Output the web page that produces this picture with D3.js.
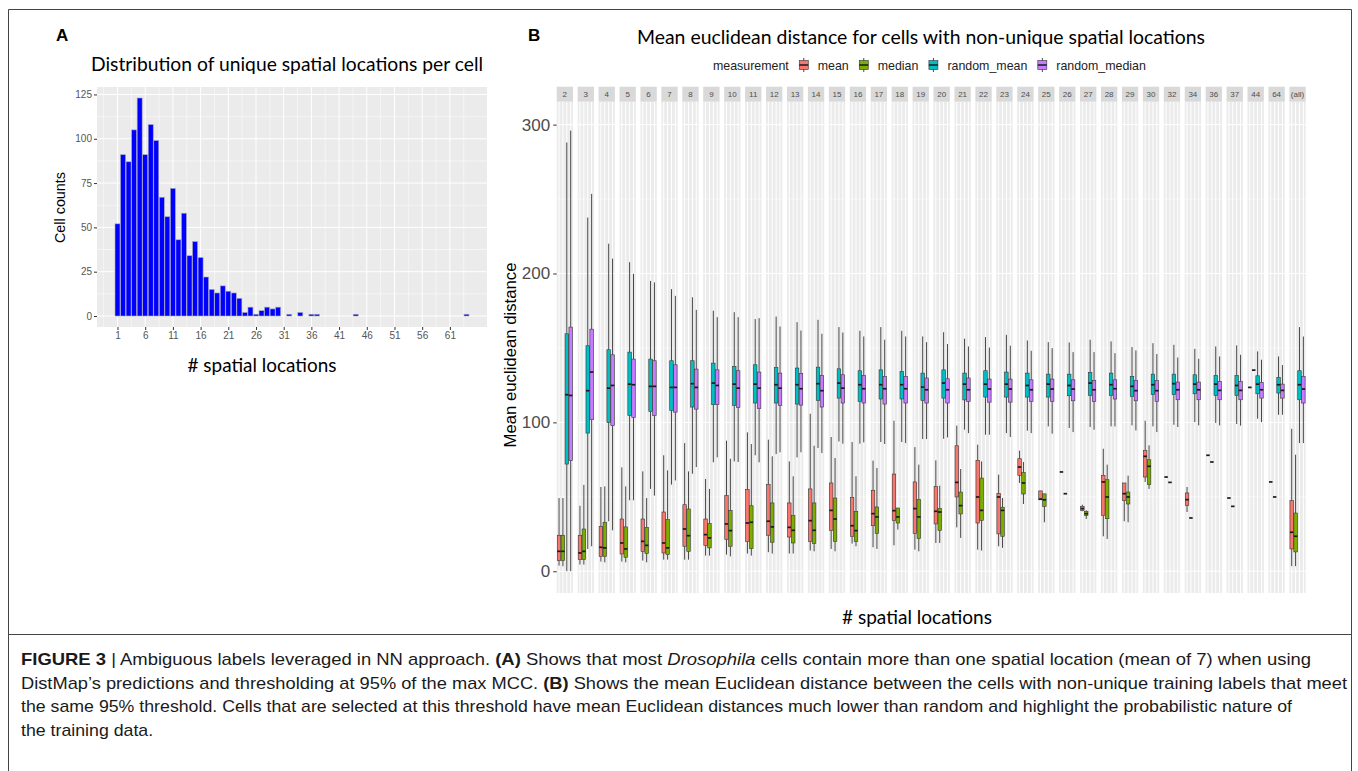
<!DOCTYPE html>
<html><head><meta charset="utf-8">
<script src="https://cdn.jsdelivr.net/npm/d3@7"></script>
<style>body{margin:0;background:#fff;} svg{display:block;}</style>
</head><body>
<svg id="fig" width="1358" height="771"></svg>
<script>
// ---------- Panel A data ----------
const locations = [1,2,3,4,5,6,7,8,9,10,11,12,13,14,15,16,17,18,19,20,21,22,23,24,25,26,27,28,29,30,31,32,33,34,35,36,37,38,39,40,41,42,43,44,45,46,47,48,49,50,51,52,53,54,55,56,57,58,59,60,61,62,63,64];
const cellCounts = [52,91,87,105,123,91,108,99,67,56,72,43,58,34,42,33,22,15,13,17,14,13,10,2,5,1,3,5,4,5,0,1,0,2,0,1,1,0,0,0,0,0,0,1,0,0,0,0,0,0,0,0,0,0,0,0,0,0,0,0,0,0,0,1];
const xTicksA = [1,6,11,16,21,26,31,36,41,46,51,56,61];
const yTicksA = [0,25,50,75,100,125];

// ---------- Panel B data ----------
const facets = ["2","3","4","5","6","7","8","9","10","11","12","13","14","15","16","17","18","19","20","21","22","23","24","25","26","27","28","29","30","32","34","36","37","44","64","(all)"];
const measurements = ["mean","median","random_mean","random_median"];
// [lower whisker, Q1, median, Q3, upper whisker]
const meanStats = [
 [3.8,7.2,13.4,24.2,49.2],[4.5,7.8,12.3,24.2,44],[6.5,10,16.1,30.2,56.6],[6.5,11.6,19,35.1,69.8],
 [7.2,13.4,20.1,35.1,67.1],[7.8,12.3,19,39.8,77.9],[7.8,16.8,28.4,44.7,86.1],[10.5,17.4,24.6,35.1,62],
 [11.2,21.3,31.8,50.8,87.7],[11.9,20.1,32.4,54.8,93.3],[12.8,24.2,33.6,58.2,88.4],[11.9,23,29.5,45.9,73.8],
 [13.9,20.1,34,55.3,105.8],[15,27.5,40.9,59.3,90.2],[18.6,23.5,30.6,49.7,86.8],[16.1,30.6,38.7,54.4,74.3],
 [17.4,34.2,40.7,65.3,101.1],[14.5,25.3,42.1,60,83.4],[19,31.8,40.3,57,74.5],[29.5,49.9,59.7,84.3,97.8],
 [14.5,32.4,49.9,74.5,85],[16.8,25.1,49.9,52.1,64.9],[59.3,64.4,70,75.6,81],[48,48,48.5,54,54],
 [66.7,66.7,66.7,66.7,66.7],[40.3,40.9,42.1,43.6,44.7],[23.5,37.6,60,64.4,82.3],[33.6,47.4,52.1,59.3,59.3],
 [60,63.3,77.2,81,101.1],[63.3,63.3,63.3,63.3,63.3],[39.8,44.1,48.1,52.6,56.6],[77.9,77.9,77.9,77.9,77.9],
 [49.2,49.2,49.2,49.2,49.2],[123.5,123.5,123.5,123.5,123.5],[60,60,60,60,60],[3.4,15,26.2,47.4,95.7]
];
const medianStats = [
 [3.4,7.2,13.4,24.2,49.2],[4.5,7.8,13.4,28.4,58],[6,10,15.7,32.9,57],[6,9.4,15,29.8,57],
 [6,11.9,17.4,29.5,49.2],[7.8,11.2,15.7,34.7,67.8],[7.8,13.4,23.9,41.8,67.1],[10.5,15.7,22.4,32,55.3],
 [10,16.8,27.3,40.9,75.6],[10.5,15.2,32.9,44,85.5],[11.9,19.5,29.8,45.9,77.2],[11.9,19,27.5,37.4,63.8],
 [13.4,18.6,27.5,45.9,84.3],[13.4,20.1,35.1,49.2,76.1],[16.8,20.1,27.3,40.3,63.8],[15,25.3,36.5,43.2,69.4],
 [28,32.4,36.5,42.5,42.5],[13.4,21.9,36.5,48.1,71.6],[19,27.5,39.8,42.1,57.5],[22.4,38.5,44.1,53.2,68.7],
 [13.9,34.2,40.9,62.6,73.8],[15.7,23.5,40.9,43,49.2],[45.2,51.9,59.3,66.4,73.4],[32.9,43.6,48,52,52],
 [52.1,52.1,52.1,52.1,52.1],[35.1,37.4,38.7,40.3,40.9],[21.7,35.3,49.9,61.5,71.6],[32.9,45.2,49.9,53.2,64.2],
 [55.3,58.2,70.5,74.9,84.6],[59.7,59.7,59.7,59.7,59.7],[35.8,35.8,35.8,35.8,35.8],[73.4,73.4,73.4,73.4,73.4],
 [43.6,43.6,43.6,43.6,43.6],[135.1,135.1,135.1,135.1,135.1],[49.9,49.9,49.9,49.9,49.9],[3.4,13,23.5,39.1,78.3]
];
const randomMeanStats = [
 [0,72,118.6,159.5,288],[15,92.8,121.3,151.5,237.6],[33.6,100,123,148.8,220],[47.7,104.7,125.7,147.2,207.6],
 [55.3,107.4,124.2,142.5,195],[58.2,108,123.5,141.4,189.5],[65.5,110.3,126,141.4,184],[73.2,111.9,126.4,139.8,175],
 [73.8,111.4,125.7,137.6,174],[77.9,113,125.7,138.7,169.4],[78.7,113,125.3,136.9,171.1],[76.5,112.3,125.3,136.5,167.3],
 [82.8,114.8,126,137.1,168.9],[87.2,116.3,126.4,136,164],[85.7,114.1,125.3,134.7,161.5],[86.8,115.7,125.3,135.3,164],
 [86.8,115.7,125.3,134.2,161.5],[88.8,114.8,123.7,133.1,157.7],[89,116.3,126.4,135.3,160.6],[95.1,115.1,125.7,133.1,156.2],
 [91.7,117,125.7,134.7,157.3],[92.8,117,125.7,133.8,158.8],[94.4,117,124.8,133.1,155],[97.3,117,125.7,132.4,153.9],
 [96.2,117.9,124.8,132.4,153.7],[96.9,118.1,126.4,133.6,155.5],[97.3,118.1,125.3,133.1,154.4],[98,117.4,124.2,130.9,150.6],
 [97.3,118.6,125.3,132.4,153.2],[98.4,118.6,126,132.4,152.1],[100.2,119.2,125.7,132,149.4],[99.6,118.1,125.7,131.5,151],
 [98.9,118.1,124.8,131.5,151.7],[102.5,119.2,125.7,131.3,147.7],[105.1,119.7,125.3,130.2,144.3],[86.1,115.2,125.3,134.7,164]
];
const randomMedianStats = [
 [0,74.3,118.1,164,296],[16.8,101.8,133.8,162.6,253.5],[27.5,97.8,124.8,145.4,210],[47.7,103.4,125.3,142.5,199.8],
 [50.8,104.7,124.2,141.4,194],[61,106.9,123.5,138.7,185],[70,108.9,123.5,135.8,175.6],[76.5,111.9,124.8,135.3,170.7],
 [73.4,110,123,134.7,170.7],[73.2,109.2,123,133.8,170],[79.9,111.4,123,133.1,164.4],[79.9,111.6,122.6,132.9,161.7],
 [79.4,110.3,121.3,131.5,159.5],[85.7,113,123,132,160.4],[86.6,113,122.6,131.5,157.7],[85.5,112.3,122.6,130.9,155.5],
 [86.1,113,122.6,130.9,157.7],[88.8,113,121.9,129.8,153.9],[89.9,113,121.9,129.3,152.6],[92.8,114.1,121.9,129.8,151],
 [91.7,113.6,122.4,129.1,150.3],[90.2,113.6,122.4,129.1,151.5],[92.8,114.1,121.9,128.6,148.1],[92.4,114.1,122.4,129.1,149.9],
 [93.5,114.5,122.4,128.6,147.2],[95.1,114.1,121.9,128,147.2],[97.3,115.7,122.6,128.6,146.5],[94.6,114.5,121.3,128.2,148.3],
 [93.5,114.1,121.3,128,145.9],[96.9,115.2,121.9,127.1,143.6],[98,115.2,121.9,127.1,142.7],[98,115.2,121.5,127.5,144.3],
 [97.8,115.2,121.5,127.5,145.4],[100.2,116.3,121.9,126.8,142.1],[105.1,116.3,121.5,125.7,138.5],[86.1,113,122.4,130.9,157.7]
];
const yTicksB = [0,100,200,300];
const yMinorB = [50,150,250];
const measurementColors = ["#F8766D","#7CAE00","#00BFC4","#C77CFF"];

// ---------- drawing ----------
const svg = d3.select("#fig");
svg.append("rect").attr("width",1358).attr("height",771).attr("fill","#fff");
const SANS = "'Liberation Sans', Arial, sans-serif";
const TITLEF = "Lato, 'Open Sans', sans-serif";

// frame
svg.append("path").attr("d","M8.5,790V9.5H1351.5V790").attr("fill","none").attr("stroke","#444").attr("stroke-width",1);
svg.append("line").attr("x1",8.5).attr("x2",1351.5).attr("y1",634.5).attr("y2",634.5).attr("stroke","#444").attr("stroke-width",1);

// panel letters
svg.append("text").attr("x",56).attr("y",41).text("A").attr("font-family",SANS).attr("font-weight","bold").attr("font-size",17);
svg.append("text").attr("x",528).attr("y",41).text("B").attr("font-family",SANS).attr("font-weight","bold").attr("font-size",17);

function fitText(t, w){ t.attr("textLength", w).attr("lengthAdjust","spacingAndGlyphs"); return t; }

// ===== Panel A =====
const xA = d3.scaleLinear().domain([-2.7, 67.7]).range([97, 487]);
const yA = d3.scaleLinear().domain([-6.2, 129.2]).range([327, 87]);
const gA = svg.append("g");
gA.append("rect").attr("x",97).attr("y",87).attr("width",390).attr("height",240).attr("fill","#EBEBEB");
const xMinorA = xTicksA.map(v=>v-2.5).concat([xTicksA[xTicksA.length-1]+2.5]);
const yMinorA = yTicksA.map(v=>v+12.5).filter(v=>v<129);
gA.selectAll("line.xmin").data(xMinorA).join("line").attr("x1",d=>xA(d)).attr("x2",d=>xA(d)).attr("y1",87).attr("y2",327).attr("stroke","#fff").attr("stroke-width",0.5);
gA.selectAll("line.ymin").data(yMinorA).join("line").attr("y1",d=>yA(d)).attr("y2",d=>yA(d)).attr("x1",97).attr("x2",487).attr("stroke","#fff").attr("stroke-width",0.5);
gA.selectAll("line.xmaj").data(xTicksA).join("line").attr("x1",d=>xA(d)).attr("x2",d=>xA(d)).attr("y1",87).attr("y2",327).attr("stroke","#fff").attr("stroke-width",1);
gA.selectAll("line.ymaj").data(yTicksA).join("line").attr("y1",d=>yA(d)).attr("y2",d=>yA(d)).attr("x1",97).attr("x2",487).attr("stroke","#fff").attr("stroke-width",1);
gA.selectAll("rect.bar").data(locations).join("rect")
  .attr("x",d=>xA(d-0.45)).attr("width",xA(0.9)-xA(0))
  .attr("y",(d,i)=>yA(cellCounts[i])).attr("height",(d,i)=>yA(0)-yA(cellCounts[i]))
  .attr("fill","#0000FF").attr("stroke","#A9A9B8").attr("stroke-width",0.6);
// axes A
const axA = gA.append("g").attr("transform","translate(0,327)").call(d3.axisBottom(xA).tickValues(xTicksA).tickSize(3).tickPadding(2));
const ayA = gA.append("g").attr("transform","translate(97,0)").call(d3.axisLeft(yA).tickValues(yTicksA).tickSize(3).tickPadding(2));
[axA, ayA].forEach(a=>{ a.select(".domain").remove(); a.selectAll(".tick line").attr("stroke","#333");
  a.selectAll("text").attr("font-family",SANS).attr("font-size",10).attr("fill","#555"); });
fitText(svg.append("text").attr("x",287).attr("y",71).attr("text-anchor","middle").attr("font-family",TITLEF).attr("font-size",19).text("Distribution of unique spatial locations per cell"),392);
fitText(svg.append("text").attr("x",262).attr("y",372).attr("text-anchor","middle").attr("font-family",TITLEF).attr("font-size",19).text("# spatial locations"),149);
fitText(svg.append("text").attr("transform","translate(64.5,207.5) rotate(-90)").attr("text-anchor","middle").attr("font-family",SANS).attr("font-size",14).text("Cell counts"),71);

// ===== Panel B =====
const fx = d3.scaleBand().domain(facets).range([556.7, 1305.7]).paddingInner(0.22).paddingOuter(0);
const xin = d3.scalePoint().domain(measurements).range([0, fx.bandwidth()]).padding(0.6);
const yB = d3.scaleLinear().domain([-14.6, 315.2]).range([593, 102]);
const colorB = d3.scaleOrdinal().domain(measurements).range(measurementColors);
const statsB = [meanStats, medianStats, randomMeanStats, randomMedianStats];
const gB = svg.append("g");
const bw = xin.step()*0.9;
facets.forEach((f,i)=>{
  const x0 = fx(f);
  const g = gB.append("g").attr("transform",`translate(${x0},0)`);
  g.append("rect").attr("x",0).attr("y",102).attr("width",fx.bandwidth()).attr("height",491).attr("fill","#EBEBEB");
  g.selectAll("line.ym").data(yMinorB).join("line").attr("x1",0).attr("x2",fx.bandwidth()).attr("y1",d=>yB(d)).attr("y2",d=>yB(d)).attr("stroke","#fff").attr("stroke-width",0.5);
  g.selectAll("line.yM").data(yTicksB).join("line").attr("x1",0).attr("x2",fx.bandwidth()).attr("y1",d=>yB(d)).attr("y2",d=>yB(d)).attr("stroke","#fff").attr("stroke-width",1);
  g.selectAll("line.xM").data(measurements).join("line").attr("x1",d=>xin(d)).attr("x2",d=>xin(d)).attr("y1",102).attr("y2",593).attr("stroke","#fff").attr("stroke-width",1);
  // strip
  g.append("rect").attr("x",0).attr("y",86.7).attr("width",fx.bandwidth()).attr("height",15).attr("fill","#D9D9D9");
  g.append("text").attr("x",fx.bandwidth()/2).attr("y",97.3).attr("text-anchor","middle").attr("font-family",SANS).attr("font-size",8).attr("fill","#4D4D4D").text(f);
  measurements.forEach((m,j)=>{
    const [lo,q1,md,q3,hi] = statsB[j][i];
    const cx = xin(m);
    g.append("line").attr("x1",cx).attr("x2",cx).attr("y1",yB(hi)).attr("y2",yB(q3)).attr("stroke","#333").attr("stroke-width",0.9);
    g.append("line").attr("x1",cx).attr("x2",cx).attr("y1",yB(q1)).attr("y2",yB(lo)).attr("stroke","#333").attr("stroke-width",0.9);
    g.append("rect").attr("x",cx-bw/2).attr("width",bw).attr("y",yB(q3)).attr("height",Math.max(0,yB(q1)-yB(q3)))
      .attr("fill",colorB(m)).attr("stroke","#333").attr("stroke-width",0.6);
    g.append("line").attr("x1",cx-bw/2).attr("x2",cx+bw/2).attr("y1",yB(md)).attr("y2",yB(md)).attr("stroke","#1a1a1a").attr("stroke-width",1.7);
  });
});
// y axis B
const ayB = gB.append("g").attr("transform","translate(556.7,0)").call(d3.axisLeft(yB).tickValues(yTicksB).tickSize(3.5).tickPadding(3));
ayB.select(".domain").remove();
ayB.selectAll(".tick line").attr("stroke","#333");
ayB.selectAll("text").attr("font-family",SANS).attr("font-size",17).attr("fill","#4D4D4D");
fitText(svg.append("text").attr("transform","translate(516,355) rotate(-90)").attr("text-anchor","middle").attr("font-family",SANS).attr("font-size",17).text("Mean euclidean distance"),185);
fitText(svg.append("text").attr("x",917).attr("y",624).attr("text-anchor","middle").attr("font-family",TITLEF).attr("font-size",19).text("# spatial locations"),150);
fitText(svg.append("text").attr("x",921).attr("y",44).attr("text-anchor","middle").attr("font-family",TITLEF).attr("font-size",20).text("Mean euclidean distance for cells with non-unique spatial locations"),568);

// legend B
const lg = svg.append("g");
let cur = 713;
const LF = 12.4;
const lt = lg.append("text").attr("x",cur).attr("y",69.5).attr("font-family",SANS).attr("font-size",LF).attr("fill","#222").text("measurement");
cur += lt.node().getComputedTextLength() + 9;
measurements.forEach(m=>{
  const k = lg.append("g").attr("transform",`translate(${cur},65)`);
  k.append("line").attr("x1",6).attr("x2",6).attr("y1",-7).attr("y2",7).attr("stroke","#333").attr("stroke-width",0.9);
  k.append("rect").attr("x",1.5).attr("y",-4.5).attr("width",9).attr("height",9).attr("fill",colorB(m)).attr("stroke","#333").attr("stroke-width",0.6);
  k.append("line").attr("x1",1.5).attr("x2",10.5).attr("y1",0).attr("y2",0).attr("stroke","#1a1a1a").attr("stroke-width",1.5);
  const t = lg.append("text").attr("x",cur+20).attr("y",69.5).attr("font-family",SANS).attr("font-size",LF).attr("fill","#222").text(m);
  cur += 20 + t.node().getComputedTextLength() + 9;
});

// ===== Caption =====
const capLines = [
  [["FIGURE 3","b"],[" | Ambiguous labels leveraged in NN approach. ",""],["(A)","b"],[" Shows that most ",""],["Drosophila","i"],[" cells contain more than one spatial location (mean of 7) when using",""]],
  [["DistMap’s predictions and thresholding at 95% of the max MCC. ",""],["(B)","b"],[" Shows the mean Euclidean distance between the cells with non-unique training labels that meet",""]],
  [["the same 95% threshold. Cells that are selected at this threshold have mean Euclidean distances much lower than random and highlight the probabilistic nature of",""]],
  [["the training data.",""]]
];
const capWidths = [1290, 1326, 1271, null];
let capRatio = 1;
const capTexts = capLines.map((ln,i)=>{
  const t = svg.append("text").attr("x",21).attr("y",665+i*23.7).attr("font-family",SANS).attr("font-size",17).attr("fill","#1a1a1a");
  ln.forEach(([s,st])=>{
    const ts = t.append("tspan").text(s);
    if(st==="b") ts.attr("font-weight","bold");
    if(st==="i") ts.attr("font-style","italic");
  });
  return t;
});
capRatio = capWidths[2] / capTexts[2].node().getComputedTextLength();
capTexts.forEach((t,i)=>{
  const w = capWidths[i] != null ? capWidths[i] : t.node().getComputedTextLength()*capRatio;
  fitText(t, w);
});
</script>
</body></html>
